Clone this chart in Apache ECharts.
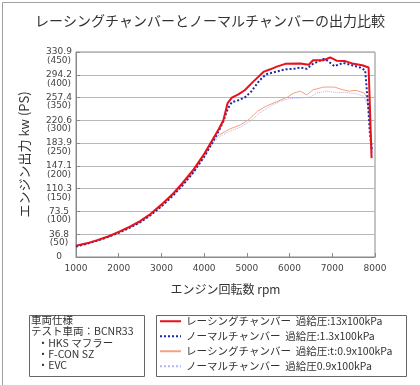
<!DOCTYPE html>
<html><head><meta charset="utf-8">
<script src="https://cdn.jsdelivr.net/npm/echarts@6/dist/echarts.min.js"></script>
<style>html,body{margin:0;padding:0;background:#fff}#c{width:420px;height:385px}</style>
</head><body><div id="c"></div>
<script>
// ---- data (rpm, PS) ----
const racingHigh = [[1000,25],[1250,30],[1500,37],[1750,45],[2000,55],[2250,66],[2500,79],[2750,95],[3000,115],[3250,137],[3500,163],[3750,192],[4000,226],[4200,258],[4350,282],[4450,300],[4550,338],[4650,350],[4800,357],[4950,366],[5150,385],[5400,407],[5550,412],[5700,418],[5900,424],[6250,425],[6450,422],[6550,432],[6800,432],[6950,438],[7100,431],[7300,430],[7500,424],[7700,421],[7850,416],[7890,419],[7920,217]];
const normalHigh = [[1000,23],[1250,29],[1500,36],[1750,44],[2000,53],[2250,64],[2500,76],[2750,92],[3000,111],[3250,133],[3500,158],[3750,186],[4000,220],[4200,252],[4350,278],[4450,298],[4550,325],[4650,340],[4800,344],[4950,350],[5100,363],[5300,388],[5450,401],[5700,407],[5900,412],[6100,413],[6250,416],[6400,413],[6550,424],[6800,435],[6870,432],[7050,419],[7250,426],[7500,420],[7650,416],[7770,410],[7840,331],[7880,272],[7925,236]];
const racingLow = [[1000,24],[1250,29],[1500,36],[1750,44],[2000,54],[2250,65],[2500,77],[2750,93],[3000,112],[3250,134],[3500,159],[3750,187],[4000,222],[4200,255],[4350,268],[4600,281],[4850,290],[5050,302],[5250,320],[5450,331],[5700,341],[5950,351],[6100,360],[6250,364],[6400,356],[6550,367],[6800,373],[7050,373],[7250,367],[7400,364],[7550,366],[7750,360],[7820,349],[7880,294],[7920,243]];
const normalLow = [[1000,23],[1250,28],[1500,35],[1750,43],[2000,53],[2250,63],[2500,75],[2750,91],[3000,110],[3250,132],[3500,156],[3750,184],[4000,217],[4200,250],[4375,265],[4600,276],[4850,285],[5080,298],[5300,316],[5550,331],[5780,342],[6000,348],[6250,349],[6480,351],[6640,360],[6870,364],[7100,361],[7340,361],[7570,358],[7730,353],[7845,331],[7920,258],[7950,228]];
const kwTicks = ['0','36.8','73.5','110.3','147.1','183.9','220.6','257.4','294.2','330.9'];
const psTicks = ['','(50)','(100)','(150)','(200)','(250)','(300)','(350)','(400)','(450)'];
const seriesNames = ['レーシングチャンバー  過給圧:13x100kPa','ノーマルチャンバー  過給圧:1.3x100kPa','レーシングチャンバー  過給圧:t:0.9x100kPa','ノーマルチャンバー  過給圧0.9x100kPa'];
const specLines = ['車両仕様','テスト車両：BCNR33','  ・HKS マフラー','  ・F-CON SZ','  ・EVC'];

const JP = '"Noto Sans CJK JP", sans-serif';
const NUM = '"DejaVu Sans", sans-serif';
const chart = echarts.init(document.getElementById('c'), null, {renderer:'canvas'});
const specGraphics = specLines.map((t,i)=>({type:'text', left: (i<2?31:33), top: 315 + i*11.2, style:{text:t, font:'10.5px '+JP, fill:'#333'}}));
const yBase = {type:'value', min:0, max:450, interval:50, position:'left'};
chart.setOption({
  animation:false,
  backgroundColor:'#fff',
  title:{text:'レーシングチャンバーとノーマルチャンバーの出力比較', left:'center', top:9, textStyle:{fontFamily:JP, fontSize:14, fontWeight:'normal', color:'#333'}},
  grid:{left:76, right:45, top:52, bottom:128, show:true, borderColor:'#8a8a8a', borderWidth:1},
  xAxis:{type:'value', min:1000, max:8000, interval:1000,
    name:'エンジン回転数 rpm', nameLocation:'middle', nameGap:26, nameTextStyle:{fontFamily:JP, fontSize:12, color:'#333'},
    axisLine:{show:true, lineStyle:{color:'#8a8a8a'}}, axisTick:{show:true, inside:true, length:4, lineStyle:{color:'#8a8a8a'}},
    splitLine:{show:false}, axisLabel:{fontFamily:NUM, fontSize:9, color:'#444', margin:7, showMinLabel:true, showMaxLabel:true, formatter:function(v){return String(v);}}},
  yAxis:[
    Object.assign({}, yBase, {
      name:'エンジン出力 kw (PS)', nameLocation:'middle', nameGap:45, nameRotate:90, nameTextStyle:{fontFamily:JP, fontSize:13, color:'#333'},
      axisLine:{show:true, lineStyle:{color:'#8a8a8a'}}, axisTick:{show:true, inside:true, length:4, lineStyle:{color:'#8a8a8a'}},
      splitLine:{show:true, lineStyle:{color:'#b8b8b8', width:1}},
      axisLabel:{fontFamily:NUM, fontSize:9, color:'#444', align:'center', margin:17, showMinLabel:true, showMaxLabel:true, hideOverlap:false,
        formatter:function(v){return kwTicks[Math.round(v/50)];}}}),
    Object.assign({}, yBase, {
      axisLine:{show:false}, axisTick:{show:false}, splitLine:{show:false},
      axisLabel:{fontFamily:NUM, fontSize:9, color:'#444', align:'center', verticalAlign:'top', padding:[4,0,0,0], margin:17, showMinLabel:true, showMaxLabel:true, hideOverlap:false,
        formatter:function(v){return psTicks[Math.round(v/50)];}}})
  ],
  legend:{orient:'vertical', left:159, top:316, padding:0, itemWidth:21, itemHeight:10, itemGap:4.5,
    itemStyle:{opacity:0, borderWidth:0},
    textStyle:{fontFamily:JP, fontSize:10.5, color:'#333'}, data:seriesNames},
  graphic:[
    {type:'rect', left:0, top:0, shape:{width:419, height:384}, style:{fill:'none', stroke:'#a0a0a0', lineWidth:1}, silent:true, z:-1},
    {type:'rect', left:27, top:313, shape:{width:115, height:61}, style:{fill:'none', stroke:'#666', lineWidth:1}, silent:true},
    {type:'rect', left:154, top:313, shape:{width:250, height:61}, style:{fill:'none', stroke:'#666', lineWidth:1}, silent:true}
  ].concat(specGraphics),
  series:[
    {name:seriesNames[3], type:'line', data:normalLow, symbol:'none', lineStyle:{color:'#b4b4f0', width:1, type:'dotted'}, itemStyle:{color:'#b4b4f0'}, z:1},
    {name:seriesNames[2], type:'line', data:racingLow, symbol:'none', lineStyle:{color:'#f4a080', width:1}, itemStyle:{color:'#f4a080'}, z:2},
    {name:seriesNames[1], type:'line', data:normalHigh, symbol:'none', lineStyle:{color:'#1c2a9c', width:2, type:'dotted'}, itemStyle:{color:'#1c2a9c'}, z:3},
    {name:seriesNames[0], type:'line', data:racingHigh, symbol:'none', lineStyle:{color:'#e8101a', width:2}, itemStyle:{color:'#e8101a'}, z:4}
  ]
});
</script></body></html>
